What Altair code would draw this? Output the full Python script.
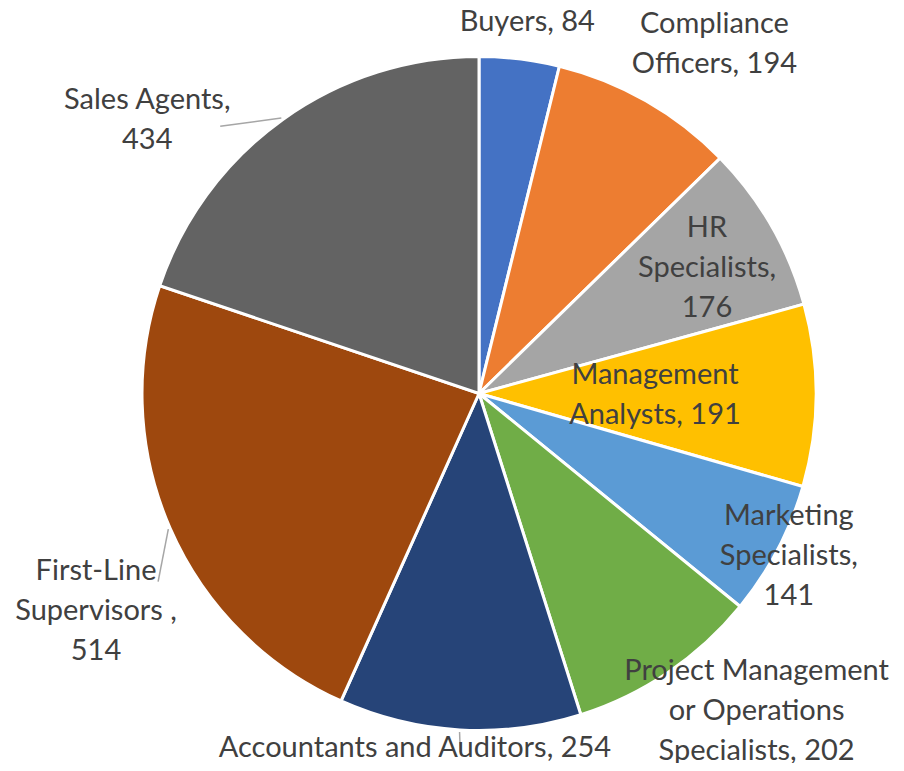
import altair as alt
import pandas as pd

# ---- data ----
categories = ["Buyers", "Compliance Officers", "HR Specialists", "Management Analysts",
              "Marketing Specialists", "Project Management or Operations Specialists",
              "Accountants and Auditors", "First-Line Supervisors", "Sales Agents"]
values = [84, 194, 176, 191, 141, 202, 254, 514, 434]
label_templates = ["Buyers, {}", "Compliance\nOfficers, {}", "HR\nSpecialists,\n{}",
                   "Management\nAnalysts, {}", "Marketing\nSpecialists,\n{}",
                   "Project Management\nor Operations\nSpecialists, {}",
                   "Accountants and Auditors, {}", "First-Line\nSupervisors ,\n{}",
                   "Sales Agents,\n{}"]
colors = ["#4472C4", "#ED7D31", "#A5A5A5", "#FFC000", "#5B9BD5",
          "#70AD47", "#264478", "#9E480E", "#636363"]

# ---- label layout (angle offset from slice middle in degrees, radius in px) ----
label_angle_off = [0.5, 4.25, 1.0, 0.2, 0.1, -7.0, 6.95, -6.0, -14.8]
label_radius = [375.0, 421.0, 260.3, 176.0, 350.0, 421.5, 360.5, 440.4, 430.1]
leader_angle_off = [None, None, None, None, None, None, -0.3, -6.8, -8.4]
leader_radius = [None, None, None, None, None, None, 359.0, 372.0, 372.0]

CX, CY, R = 471.0, 385.5, 337.0
LINE_H = 40

labels_txt = [t.format(v) for t, v in zip(label_templates, values)]

df = pd.DataFrame({
    "cat": categories,
    "value": values,
    "idx": list(range(len(values))),
    "label": labels_txt,
    "nlines": [s.count("\n") + 1 for s in labels_txt],
    "loff": label_angle_off,
    "lr": label_radius,
    "ldoff": [x if x is not None else 0 for x in leader_angle_off],
    "ldr": [x if x is not None else 0 for x in leader_radius],
    "has_leader": [x is not None for x in leader_radius],
})

base = alt.Chart(df)

pie = base.mark_arc(radius=R, stroke="white", strokeWidth=3).encode(
    theta=alt.Theta("value:Q", stack=True),
    order=alt.Order("idx:Q"),
    color=alt.Color("cat:N", scale=alt.Scale(domain=categories, range=colors), legend=None),
    x=alt.value(CX),
    y=alt.value(CY),
)

geo = base.transform_joinaggregate(total="sum(value)").transform_window(
    cum="sum(value)", sort=[alt.SortField("idx")]
).transform_calculate(
    mid="(datum.cum - datum.value/2) / datum.total * 360"
)

labels = geo.transform_calculate(
    la="(datum.mid + datum.loff) * PI / 180"
).transform_calculate(
    lx=f"{CX} + datum.lr * sin(datum.la)",
    ly=f"{CY} - datum.lr * cos(datum.la) - (datum.nlines - 1) * {LINE_H / 2}",
).mark_text(
    lineBreak="\n", align="center", baseline="middle", font="Lato",
    fontSize=29, lineHeight=LINE_H, color="#404040"
).encode(
    x=alt.X("lx:Q", scale=None, axis=None),
    y=alt.Y("ly:Q", scale=None, axis=None),
    text="label:N",
)

leaders = geo.transform_filter("datum.has_leader").transform_calculate(
    a1="datum.mid * PI / 180",
    a2="(datum.mid + datum.ldoff) * PI / 180",
).transform_calculate(
    x1=f"{CX} + {R + 2} * sin(datum.a1)",
    y1=f"{CY} - {R + 2} * cos(datum.a1)",
    x2=f"{CX} + datum.ldr * sin(datum.a2)",
    y2=f"{CY} - datum.ldr * cos(datum.a2)",
).mark_rule(color="#A6A6A6", strokeWidth=1.5).encode(
    x=alt.X("x1:Q", scale=None, axis=None),
    y=alt.Y("y1:Q", scale=None, axis=None),
    x2="x2:Q",
    y2="y2:Q",
)

chart = alt.layer(pie, leaders, labels).properties(
    width=888, height=755, padding=0,
    autosize=alt.AutoSizeParams(type="none"),
).configure_view(stroke=None)

chart.save("out.html", embed_options={"renderer": "svg", "actions": False})
